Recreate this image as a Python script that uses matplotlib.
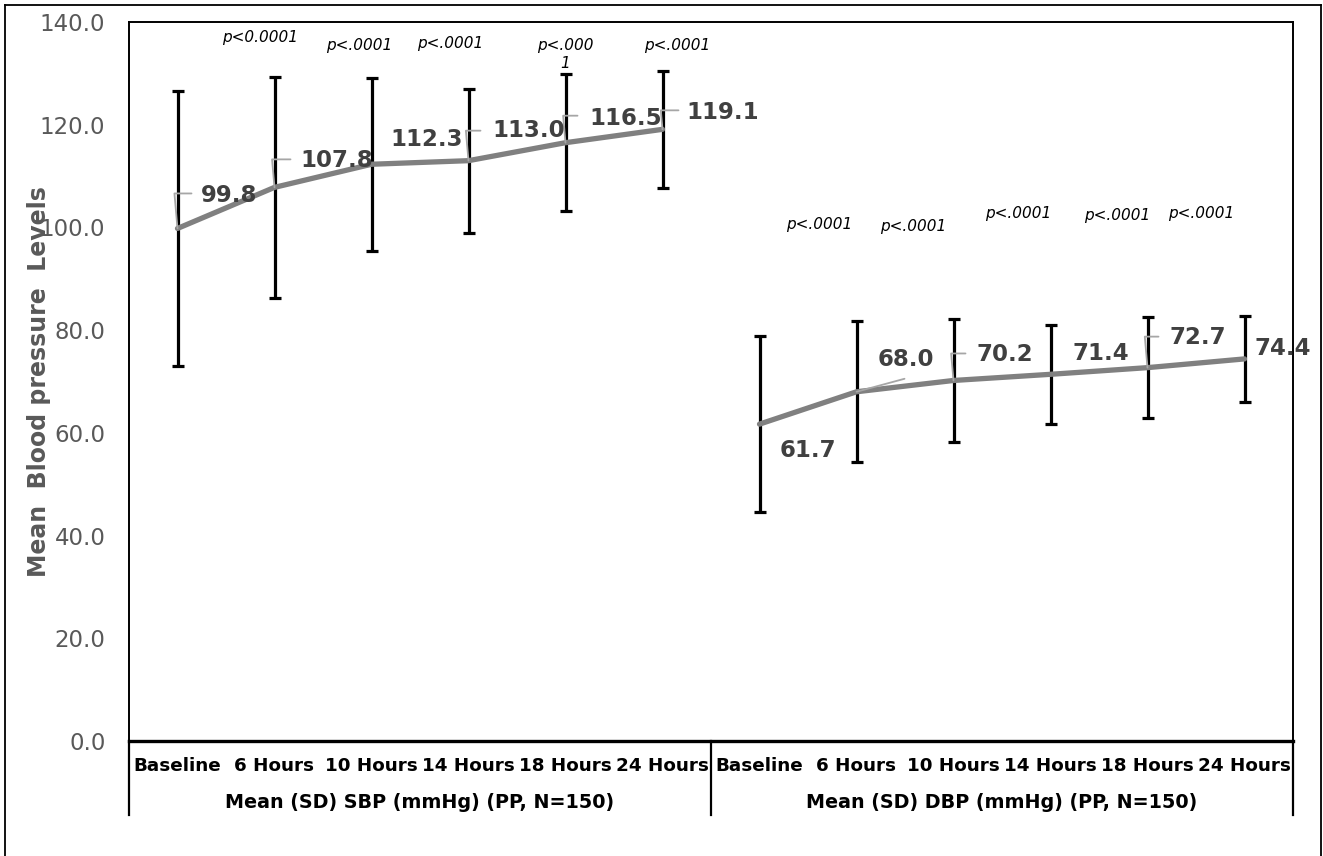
import numpy as np
import matplotlib
matplotlib.use("Agg")
import matplotlib.pyplot as plt
from matplotlib.lines import Line2D
from matplotlib.transforms import blended_transform_factory

# ---------------- data ----------------
time_points = ["Baseline", "6 Hours", "10 Hours", "14 Hours", "18 Hours", "24 Hours"]
group_names = ["Mean (SD) SBP (mmHg) (PP, N=150)", "Mean (SD) DBP (mmHg) (PP, N=150)"]
sbp_mean = [99.8, 107.8, 112.3, 113.0, 116.5, 119.1]
sbp_sd = [26.8, 21.5, 16.8, 14.0, 13.3, 11.4]
dbp_mean = [61.7, 68.0, 70.2, 71.4, 72.7, 74.4]
dbp_sd = [17.1, 13.7, 12.0, 9.6, 9.8, 8.4]
sbp_p = ["p<0.0001", "p<.0001", "p<.0001", "p<.000\n1", "p<.0001"]
dbp_p = ["p<.0001", "p<.0001", "p<.0001", "p<.0001", "p<.0001"]
y_ticks = [0, 20, 40, 60, 80, 100, 120, 140]
y_label = "Mean  Blood pressure  Levels"

# ---------------- layout (positions / offsets) ----------------
sbp_p_pos = [(0.856, 136.9), (1.871, 135.4), (2.809, 135.8), (3.995, 133.7), (5.156, 135.4)]
dbp_p_pos = [(6.613, 100.6), (7.582, 100.2), (8.665, 102.7), (9.686, 102.4), (10.552, 102.7)]
# text-centre offsets in pixels (dx, dy up)
sbp_lab_off = [(52, 33), (62, 27), (55, 25), (60, 30), (60, 24), (60, 17)]
dbp_lab_off = [(48, -26), (49, 32), (51, 26), (50, 21), (50, 30), (38, 10)]
# leader lines: (kind, dx, dy) ; 'elbow' = up then right, 'line' = straight
sbp_leaders = [("elbow", 14, 35), ("elbow", 16, 28), None, ("elbow", 12, 30), ("elbow", 12, 27), ("elbow", 16, 19)]
dbp_leaders = [None, ("line", 48, 13), ("elbow", 12, 27), None, ("elbow", 11, 31), None]

W, H = 1323, 856
fig = plt.figure(figsize=(W / 100, H / 100), dpi=100)
L, R, T, B = 129, 1293, 22, 741
ax = fig.add_axes([L / W, 1 - B / H, (R - L) / W, (B - T) / H])

n = len(time_points)
x_sbp = np.arange(n)
x_dbp = np.arange(n) + n

line_col = "#808080"
lab_col = "#404040"
lead_col = "#a6a6a6"

for xs, m, sd in [(x_sbp, sbp_mean, sbp_sd), (x_dbp, dbp_mean, dbp_sd)]:
    ax.errorbar(xs, m, yerr=sd, fmt="none", ecolor="black", elinewidth=2.3,
                capsize=4.5, capthick=2.3, zorder=2)
    ax.plot(xs, m, color=line_col, lw=3.8, zorder=3, solid_capstyle="round")

ax.set_xlim(-0.5, 2 * n - 0.5)
ax.set_ylim(0, 140)
ax.set_yticks(y_ticks)
ax.set_yticklabels([f"{v:.1f}" for v in y_ticks])
ax.tick_params(axis="y", length=0, pad=17, labelsize=16.5, labelcolor="#595959")
ax.set_xticks([])

for s in ["left", "right", "top"]:
    ax.spines[s].set_linewidth(1.4)
    ax.spines[s].set_color("black")
ax.spines["bottom"].set_linewidth(2.4)
ax.spines["bottom"].set_color("black")

# data labels + leaders
for xs, m, offs, leads in [(x_sbp, sbp_mean, sbp_lab_off, sbp_leaders),
                           (x_dbp, dbp_mean, dbp_lab_off, dbp_leaders)]:
    for xi, v, (dx, dy), ld in zip(xs, m, offs, leads):
        ax.annotate(f"{v:.1f}", xy=(xi, v), xytext=(dx, dy), textcoords="offset pixels",
                    ha="center", va="center", fontsize=16.5, fontweight="bold",
                    color=lab_col, zorder=5)
        if ld is not None:
            kind, lx, ly = ld
            if kind == "elbow":
                ax.annotate("", xy=(xi, v), xytext=(lx, ly), textcoords="offset pixels",
                            arrowprops=dict(arrowstyle="-", color=lead_col, lw=1.3,
                                            shrinkA=0, shrinkB=0,
                                            connectionstyle="angle,angleA=0,angleB=95,rad=0"),
                            zorder=4)
            else:
                ax.annotate("", xy=(xi, v), xytext=(lx, ly), textcoords="offset pixels",
                            arrowprops=dict(arrowstyle="-", color=lead_col, lw=1.3,
                                            shrinkA=0, shrinkB=0), zorder=4)

# p-values
for txt, (px, py) in list(zip(sbp_p, sbp_p_pos)) + list(zip(dbp_p, dbp_p_pos)):
    ax.text(px, py, txt, ha="center", va="center", fontsize=11, fontstyle="italic",
            color="black", linespacing=1.3, zorder=5)

# category labels and group labels
bt = blended_transform_factory(ax.transData, ax.transAxes)
for i, lab in enumerate(time_points + time_points):
    ax.annotate(lab, xy=(i, 0), xycoords=bt, xytext=(0, -25), textcoords="offset pixels",
                ha="center", va="center", fontsize=13.2, fontweight="bold", color="black",
                annotation_clip=False)
for g, name in enumerate(group_names):
    ax.annotate(name, xy=(g * n + (n - 1) / 2, 0), xycoords=bt, xytext=(0, -62),
                textcoords="offset pixels", ha="center", va="center", fontsize=13.8,
                fontweight="bold", color="black", annotation_clip=False)
for xd in [-0.5, n - 0.5, 2 * n - 0.5]:
    ax.add_line(Line2D([xd, xd], [0, -74 / (B - T)], transform=bt, color="black",
                       lw=1.6, clip_on=False))

# y label
ax.text((39 - L) / (R - L), 0.5, y_label, transform=ax.transAxes, rotation=90,
        ha="center", va="center", fontsize=17, fontweight="bold", color="#595959", zorder=6)

# outer frame (open at bottom)
fx0, fx1, fy1 = 5 / W, 1320.5 / W, 1 - 5 / H
for xs_, ys_ in [([fx0, fx0], [0, fy1]), ([fx0, fx1], [fy1, fy1]), ([fx1, fx1], [fy1, 0])]:
    fig.add_artist(Line2D(xs_, ys_, transform=fig.transFigure, color="black", lw=1.3))

fig.savefig("out.png", dpi=100)
